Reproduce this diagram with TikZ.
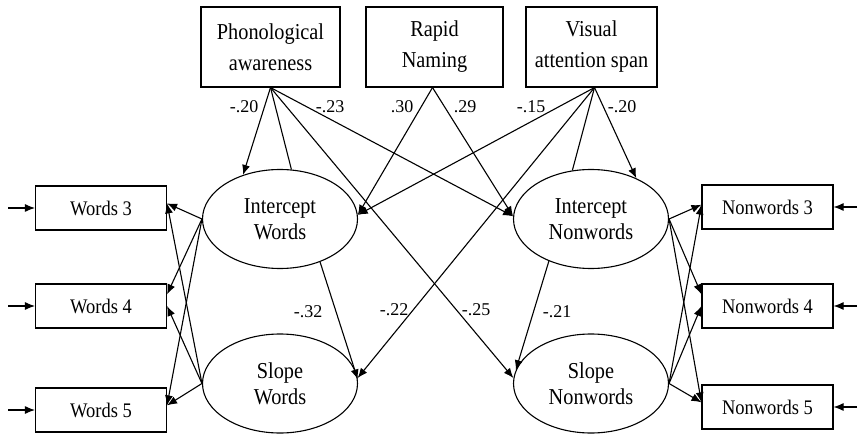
\documentclass[tikz,border=0pt]{standalone}
\usepackage{fontspec}
\usepackage{graphicx}
\setmainfont{Liberation Serif}
\usetikzlibrary{shapes.geometric,arrows.meta}
\newcommand{\vstr}[1]{\scalebox{1}[1.12]{#1}}
\begin{document}
\begin{tikzpicture}[x=1pt,y=-1pt,
  lat/.style={ellipse,draw,line width=1.1pt,minimum width=155pt,minimum height=99pt,inner sep=0pt,align=center,font=\fontsize{20.3}{26}\selectfont,fill=white},
  pred/.style={rectangle,draw,line width=1.1pt,minimum height=80pt,inner sep=0pt,align=center,font=\fontsize{20.3}{31}\selectfont},
  obs/.style={rectangle,draw,line width=1.1pt,minimum width=131pt,minimum height=44pt,inner sep=0pt,font=\fontsize{18.5}{22}\selectfont},
  arr/.style={line width=1.1pt,-{Latex[length=10pt,width=8pt]}},
  ln/.style={line width=1.1pt},
  lab/.style={font=\fontsize{18}{20}\selectfont,inner sep=0pt}]
\useasboundingbox (0,0) rectangle (858,435);

% predictors
\node[pred,minimum width=139pt] (PA) at (270.5,47) {\vstr{Phonological}\\\vstr{awareness}};
\node[pred,minimum width=137pt] (RN) at (434.5,47) {\vstr{Rapid}\\\vstr{Naming}};
\node[pred,minimum width=131pt] (VA) at (591.5,47) {\vstr{Visual}\\\vstr{attention span}};

% latent
\node[lat] (IW) at (280,219) {\vstr{Intercept}\\\vstr{Words}};
\node[lat] (SW) at (280,383.5) {\vstr{Slope}\\\vstr{Words}};
\node[lat] (IN) at (591,219) {\vstr{Intercept}\\\vstr{Nonwords}};
\node[lat] (SN) at (591,383.5) {\vstr{Slope}\\\vstr{Nonwords}};

% observed
\node[obs] (W3) at (101,208) {\vstr{Words 3}};
\node[obs] (W4) at (101,306) {\vstr{Words 4}};
\node[obs] (W5) at (101,410) {\vstr{Words 5}};
\node[obs] (N3) at (767.5,207) {\vstr{Nonwords 3}};
\node[obs] (N4) at (767.5,306) {\vstr{Nonwords 4}};
\node[obs] (N5) at (767.5,407) {\vstr{Nonwords 5}};

% error sources
\coordinate (eW3) at (8,208);
\coordinate (eW4) at (8,306);
\coordinate (eW5) at (8,410);
\coordinate (eN3) at (857,207);
\coordinate (eN4) at (857,306);
\coordinate (eN5) at (857,407);

\draw[arr] (eW3) -- (W3.west);
\draw[arr] (eW4) -- (W4.west);
\draw[arr] (eW5) -- (W5.west);
\draw[arr] (eN3) -- (N3.east);
\draw[arr] (eN4) -- (N4.east);
\draw[arr] (eN5) -- (N5.east);

% predictor paths
\draw[arr] (PA.south) -- (IW.130);
\draw[ln]  (PA.south) -- (IW.77);
\draw[arr] (PA.south) -- (SN.176);
\draw[arr] (PA.south) -- (IN.178);
\draw[arr] ([xshift=-2pt]RN.south) -- (IW.3);
\draw[arr] ([xshift=-2pt]RN.south) -- (IN.178);
\draw[arr] ([xshift=3pt]VA.south) -- (IW.3);
\draw[arr] ([xshift=3pt]VA.south) -- (SW.4);
\draw[ln]  ([xshift=3pt]VA.south) -- (IN.111);
\draw[arr] ([xshift=3pt]VA.south) -- (IN.42);

% intercept -> slope
\draw[arr] (IW.-47) -- (SW.3);
\draw[arr] (IN.-135) -- (SN.170);

% loadings
\draw[arr] (IW.west) -- (W3.4);
\draw[arr] (IW.west) -- (W4.10);
\draw[arr] (IW.west) -- (W5.4);
\draw[arr] (SW.west) -- (W3.4);
\draw[arr] (SW.west) -- (W4.east);
\draw[arr] (SW.west) -- (W5.4);
\draw[arr] (IN.east) -- (N3.178);
\draw[arr] (IN.east) -- (N4.170);
\draw[arr] (IN.east) -- (N5.176);
\draw[arr] (SN.east) -- (N3.178);
\draw[arr] (SN.east) -- (N4.west);
\draw[arr] (SN.east) -- (N5.176);

% labels
\node[lab] (l1) at (244,107) {-.20};
\node[lab] (l2) at (330,107) {-.23};
\node[lab] (l3) at (402,107) {.30};
\node[lab] (l4) at (465,107) {.29};
\node[lab] (l5) at (531,107) {-.15};
\node[lab] (l6) at (622,107) {-.20};
\node[lab] (l7) at (308,312) {-.32};
\node[lab] (l8) at (394,310) {-.22};
\node[lab] (l9) at (476,310) {-.25};
\node[lab] (l10) at (557,312) {-.21};
\end{tikzpicture}
\end{document}
